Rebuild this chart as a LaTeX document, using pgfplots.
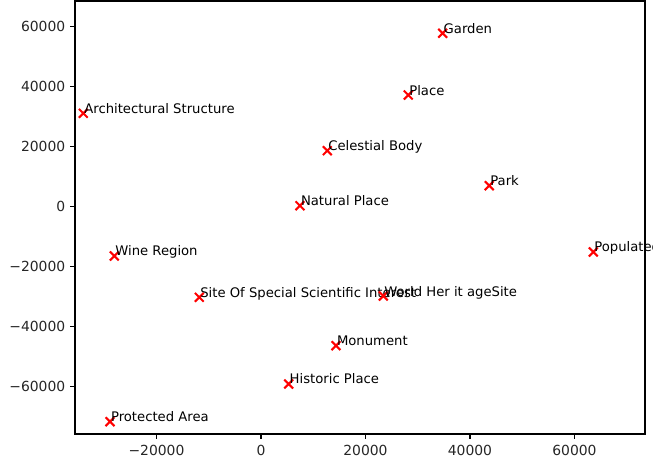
\documentclass[border=0pt]{standalone}
\usepackage{pgfplots}
\pgfplotsset{compat=1.18}
\usepackage{fontspec}
\setmainfont{DejaVu Sans}
\begin{document}
\begin{tikzpicture}
\path[use as bounding box, clip] (-0.75in,-0.41in) rectangle (5.78in,4.34in);
\begin{axis}[
  at={(0,0)}, anchor=south west,
  scale only axis, width=5.70in, height=4.33in,
  xmin=-35600, xmax=73500, ymin=-75770, ymax=68570,
  scaled ticks=false,
  xtick={-20000,0,20000,40000,60000},
  xticklabels={−20000,0,20000,40000,60000},
  ytick={-60000,-40000,-20000,0,20000,40000,60000},
  yticklabels={−60000,−40000,−20000,0,20000,40000,60000},
  tick align=outside, xtick pos=bottom, ytick pos=left,
  major tick length=3.5bp,
  every tick/.style={black, line width=0.8bp},
  axis line style={line width=0.8bp},
  ticklabel style={font=\fontsize{10bp}{12bp}\selectfont, text=black!85},
  xticklabel style={yshift=-1bp},
  clip=false,
]
\addplot[only marks, mark=x, mark size=4.5bp, red, line width=1.5bp,
  point meta=explicit symbolic,
  nodes near coords={\pgfplotspointmeta},
  every node near coord/.append style={anchor=base west, inner sep=0pt, black, font=\fontsize{9.5bp}{11bp}\selectfont}]
table[col sep=comma, meta=label] {
x,y,label
34770,57800,Garden
28190,37230,Place
12690,18670,Celestial Body
43690,7000,Park
-34010,31130,Architectural Structure
7460,330,Natural Place
-28080,-16430,Wine Region
-11810,-30200,Site Of Special Scientific Interest
5300,-59100,Historic Place
-28900,-71670,Protected Area
63600,-15100,Populated Place
23410,-29770,World Her it ageSite
14350,-46330,Monument
};
\end{axis}
\end{tikzpicture}
\end{document}
